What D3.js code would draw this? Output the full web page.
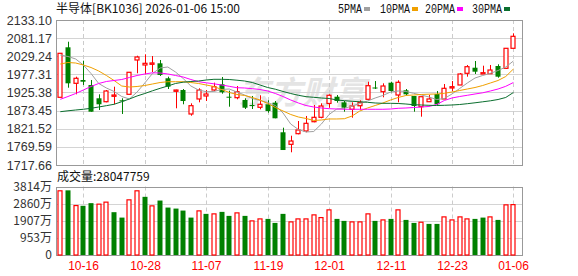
<!DOCTYPE html>
<html><head><meta charset="utf-8">
<script src="https://cdn.jsdelivr.net/npm/d3@7/dist/d3.min.js"></script>
<style>body{margin:0;background:#fff;} svg{display:block;}</style>
</head><body><svg id="c" width="578" height="276"></svg>
<script>
const dates = ["10-13","10-14","10-15","10-16","10-17","10-20","10-21","10-22","10-23","10-24",
"10-27","10-28","10-29","10-30","10-31","11-03","11-04","11-05","11-06","11-07",
"11-10","11-11","11-12","11-13","11-14","11-17","11-18","11-19","11-20","11-21",
"11-24","11-25","11-26","11-27","11-28","12-01","12-02","12-03","12-04","12-05",
"12-08","12-09","12-10","12-11","12-12","12-15","12-16","12-17","12-18","12-19",
"12-22","12-23","12-24","12-25","12-26","12-29","12-30","12-31","01-05","01-06"];
const open  = [1911.6,2054.9,1951.7,1961.2,1946.9,1908.8,1899.0,1914.5,1903.0,1920.2,
2018.5,2004.2,2006.2,2009.0,1966.1,1928.8,1932.5,1863.8,1906.8,1915.4,
1932.5,1948.9,1913.3,1910.5,1903.9,1889.6,1883.0,1891.6,1896.2,1811.4,
1776.9,1807.4,1815.1,1841.7,1854.3,1894.0,1913.3,1897.3,1877.2,1887.6,
1905.9,1939.7,1927.7,1953.5,1918.2,1931.7,1915.4,1884.7,1899.0,1921.1,
1906.8,1938.3,1946.9,1980.4,1996.4,1978.4,1979.2,2001.3,1994.7,2052.0];
const high  = [2037.7,2070.9,1970.7,2016.5,1961.2,1920.2,1932.5,1942.0,1908.8,1983.3,
2030.8,2034.8,2029.9,2018.5,1970.7,1933.5,1935.4,1894.4,1937.4,1932.5,
1953.5,1969.8,1930.6,1944.0,1908.8,1915.4,1917.4,1903.0,1901.0,1824.6,
1801.6,1843.7,1858.1,1889.6,1894.4,1920.2,1918.2,1901.0,1897.3,1903.0,
1956.3,1958.2,1951.7,1956.3,1960.3,1935.4,1915.4,1913.3,1918.2,1929.7,
1949.7,1958.3,1981.3,2004.2,2015.6,2002.2,2004.2,2006.2,2052.0,2095.0];
const low   = [1911.6,1939.1,1920.2,1946.9,1870.4,1875.2,1897.3,1891.6,1863.8,1920.2,
1980.4,1977.5,1984.1,1972.7,1935.4,1880.1,1891.6,1858.9,1897.3,1901.0,
1929.7,1922.0,1884.7,1905.9,1878.1,1878.1,1877.2,1867.5,1851.5,1760.6,
1754.1,1805.6,1811.4,1840.0,1851.5,1881.8,1896.2,1870.4,1853.2,1876.1,
1905.9,1935.4,1911.6,1926.0,1897.3,1918.2,1870.4,1856.1,1899.0,1889.6,
1906.8,1929.7,1946.9,1970.7,1978.4,1978.4,1979.2,1967.8,1992.7,2052.0];
const close = [2037.7,1951.7,1966.1,1956.3,1870.4,1891.6,1929.7,1918.2,1901.0,1983.3,
2027.1,2009.0,2010.0,1975.5,1942.0,1932.5,1901.0,1887.6,1932.5,1921.1,
1942.0,1926.0,1910.5,1927.7,1881.8,1886.7,1891.6,1872.4,1851.5,1760.6,
1786.4,1818.0,1837.1,1854.3,1886.7,1917.4,1901.0,1881.8,1886.7,1897.3,
1944.9,1936.9,1944.0,1929.7,1954.6,1920.2,1886.7,1913.3,1906.8,1891.6,
1937.4,1942.0,1978.4,1999.3,1985.0,1982.1,1989.8,1970.7,2052.0,2086.4];
// volume in 万
const volume = [3574,3600,2753,2740,2887,2831,2943,2384,2083,3071,
3574,3239,2736,3032,2641,2585,2474,2083,2457,2290,
2290,2401,2178,2345,2178,1899,2010,2010,1787,2290,
1843,2010,2010,2234,2083,2513,2010,1899,1843,1843,
2290,1899,1954,2010,2513,1954,1787,1825,1731,1731,
2122,1954,2122,2010,2010,2083,2122,1954,2792,2804.8];
const ma5 = [2032.8,2028.5,2021.4,2004.2,1979.8,1951.2,1938.3,1928.3,1913.9,1906.8,
1926.8,1952.6,1979.8,1995.6,1998.4,1984.1,1965.5,1944.0,1932.5,1927.7,
1928.3,1934.0,1935.4,1926.8,1918.2,1908.2,1902.5,1896.7,1888.1,1866.7,
1835.1,1819.4,1812.2,1813.7,1835.1,1862.4,1878.1,1880.1,1886.7,1893.9,
1901.0,1909.6,1916.8,1926.8,1929.7,1928.3,1923.1,1918.2,1912.5,1905.3,
1908.2,1921.1,1936.8,1952.6,1966.9,1974.1,1980.4,1988.4,1998.4,2015.6];
const ma10 = [2007.0,2011.3,2009.9,2004.2,1997.0,1987.0,1974.1,1959.8,1944.0,1941.1,
1942.6,1945.4,1949.7,1954.0,1956.3,1956.3,1956.3,1954.0,1951.2,1946.9,
1942.6,1934.0,1925.4,1919.7,1916.8,1911.1,1903.9,1893.9,1882.4,1872.4,
1862.4,1855.2,1850.9,1845.2,1846.6,1849.5,1849.5,1850.3,1858.1,1872.4,
1881.0,1888.1,1895.3,1903.9,1911.1,1916.8,1918.2,1919.7,1920.5,1921.1,
1923.1,1926.8,1931.1,1935.4,1939.7,1945.4,1952.6,1959.8,1971.2,1992.7];
const ma20 = [1905.9,1913.9,1922.5,1932.5,1942.6,1951.2,1956.9,1959.8,1962.6,1968.4,
1974.1,1978.4,1981.8,1981.3,1978.4,1974.1,1969.8,1962.6,1956.3,1953.2,
1950.3,1946.9,1943.1,1939.1,1938.3,1936.3,1934.0,1929.7,1922.5,1913.9,
1903.9,1895.3,1888.1,1883.8,1881.0,1879.0,1878.1,1877.3,1877.3,1877.3,
1877.3,1877.3,1877.3,1878.1,1880.1,1881.0,1882.4,1883.8,1885.3,1891.0,
1902.5,1909.6,1913.9,1917.4,1921.1,1924.5,1929.7,1935.4,1943.1,1954.0];
const ma30 = [1870.4,1873.0,1875.2,1877.3,1880.1,1883.8,1887.6,1891.6,1899.0,1906.8,
1915.4,1922.5,1930.3,1937.4,1944.0,1951.2,1954.9,1956.9,1958.3,1961.2,
1963.2,1963.2,1962.6,1960.6,1958.3,1954.0,1946.9,1939.7,1934.8,1928.3,
1922.5,1917.4,1913.4,1911.6,1909.6,1908.2,1903.9,1901.9,1900.2,1898.7,
1897.3,1895.3,1894.4,1894.4,1893.9,1892.4,1890.4,1889.6,1888.7,1888.1,
1888.7,1889.6,1891.0,1893.3,1895.9,1898.7,1901.6,1905.3,1911.1,1925.4];
const priceTicks = [2133.10,2081.17,2029.24,1977.31,1925.38,1873.45,1821.52,1769.59,1717.66];
const volTicks = [0,953,1907,2860,3814];
const volTickLabels = ["0","953万","1907万","2860万","3814万"];
const dateTicks = ["10-16","10-28","11-07","11-19","12-01","12-11","12-23","01-06"];
const maNames = ["5PMA","10PMA","20PMA","30PMA"];
const maColors = ["#a0a0a0","#f0a000","#ff00ff","#0a6e2e"];

const RED = "#ff0000", GREEN = "#008000";
const L = 56, R = 522, PT = 20, PB = 165, VT = 186.5, VB = 255;
const svg = d3.select("#c");
const font = "'Liberation Sans', Arial, sans-serif";
const mono = "'Liberation Mono', 'DejaVu Sans Mono', monospace";
const cjk = "'Noto Sans CJK SC', 'Liberation Sans', sans-serif";

const x = d3.scaleBand().domain(dates).range([56.46, 517.26]).paddingInner(0.35).paddingOuter(0.175);
const cx = d => Math.round(x(d) + x.bandwidth()/2) + 0.5;
const y = d3.scaleLinear().domain([1717.66, 2133.10]).range([PB, PT]);
const yv = d3.scaleLinear().domain([0, 3814]).range([VB, VT]);

// watermark
svg.append("text").attr("x", 238).attr("y", 104).attr("font-family", cjk)
  .attr("font-size", 32).attr("font-weight", "bold").attr("font-style", "italic")
  .attr("fill", "#e4e4e4").text("东方财富");

// grids
function panel(top, bottom, scale, ticks) {
  const g = svg.append("g");
  g.selectAll("line.h").data(ticks).join("line")
    .attr("x1", L).attr("x2", R)
    .attr("y1", d => Math.round(scale(d)) + 0.5).attr("y2", d => Math.round(scale(d)) + 0.5)
    .attr("stroke", "#d4d4d4");
  g.selectAll("line.v").data(dateTicks).join("line")
    .attr("x1", d => cx(d)).attr("x2", d => cx(d))
    .attr("y1", top).attr("y2", bottom)
    .attr("stroke", "#cccccc").attr("stroke-dasharray", "4,3");
  g.append("rect").attr("x", L + 0.5).attr("y", Math.round(top) + 0.5)
    .attr("width", R - L).attr("height", Math.round(bottom) - Math.round(top))
    .attr("fill", "none").attr("stroke", "#999");
}
panel(PT, PB, y, priceTicks);
panel(VT, VB, yv, volTicks);

// y labels
svg.append("g").selectAll("text").data(priceTicks).join("text")
  .attr("x", 52).attr("y", d => y(d)).attr("dy", "0.36em").attr("text-anchor", "end")
  .attr("font-family", font).attr("font-size", 12.5).attr("fill", "#333")
  .text(d => d.toFixed(2));
svg.append("g").selectAll("text").data(volTicks).join("text")
  .attr("x", 52).attr("y", d => yv(d)).attr("dy", "0.36em").attr("text-anchor", "end")
  .attr("font-family", cjk).attr("font-size", 12).attr("fill", "#333")
  .text((d, i) => volTickLabels[i]);

// x labels
svg.append("g").selectAll("text").data(dateTicks).join("text")
  .attr("x", d => cx(d)).attr("y", 266).attr("dy", "0.36em").attr("text-anchor", "middle")
  .attr("font-family", font).attr("font-size", 12).attr("fill", RED).text(d => d);

// candles
const idx = d3.range(dates.length);
const up = i => close[i] >= open[i];
const cg = svg.append("g");
cg.selectAll("line").data(idx).join("line")
  .attr("x1", i => cx(dates[i])).attr("x2", i => cx(dates[i]))
  .attr("y1", i => y(high[i])).attr("y2", i => y(low[i]))
  .attr("stroke", i => up(i) ? RED : GREEN);
const bw = 5;
cg.selectAll("rect").data(idx).join("rect")
  .attr("x", i => cx(dates[i]) - bw/2 + (up(i) ? 0 : -0.5))
  .attr("y", i => Math.min(y(open[i]), y(close[i])))
  .attr("width", i => up(i) ? bw - 1 : bw)
  .attr("height", i => Math.max(1, Math.abs(y(open[i]) - y(close[i]))))
  .attr("fill", i => up(i) ? "#fff" : GREEN)
  .attr("stroke", i => up(i) ? RED : "none").attr("stroke-width", 1.2);

// MAs
const mas = [ma5, ma10, ma20, ma30];
const line = d3.line().x((d, i) => x(dates[i]) + x.bandwidth()/2).y(d => y(d));
mas.forEach((m, k) => {
  svg.append("path").attr("d", line(m)).attr("fill", "none")
    .attr("stroke", maColors[k]).attr("stroke-width", 1);
});

// volume bars (colour by change from previous close)
const vup = i => i === 0 ? up(0) : close[i] >= close[i-1];
svg.append("g").selectAll("rect").data(idx).join("rect")
  .attr("x", i => cx(dates[i]) - bw/2 + (vup(i) ? 0 : -0.5))
  .attr("y", i => yv(volume[i]))
  .attr("width", i => vup(i) ? bw - 1 : bw)
  .attr("height", i => VB - yv(volume[i]))
  .attr("fill", i => vup(i) ? "#fff" : GREEN)
  .attr("stroke", i => vup(i) ? RED : "none").attr("stroke-width", 1.2);

// title
svg.append("text").attr("x", 56).attr("y", 13).attr("font-family", cjk)
  .attr("font-size", 12).attr("fill", "#111").attr("textLength", 184)
  .text("半导体[BK1036] 2026-01-06 15:00");
svg.append("text").attr("x", 57).attr("y", 177).attr("dy", "0.36em").attr("font-family", cjk)
  .attr("font-size", 12).attr("fill", "#111").text("成交量:28047759");

// legend
const legX = [338, 380, 425, 472];
const legW = [24, 30, 30, 30];
const lg = svg.append("g");
maNames.forEach((n, k) => {
  lg.append("text").attr("x", legX[k]).attr("y", 13).attr("font-family", mono)
    .attr("font-size", 12).attr("fill", "#111").attr("textLength", legW[k])
    .attr("lengthAdjust", "spacingAndGlyphs").text(n);
  lg.append("rect").attr("x", legX[k] + legW[k] + 2).attr("y", 7).attr("width", 6).attr("height", 4)
    .attr("fill", maColors[k]);
});
</script></body></html>
